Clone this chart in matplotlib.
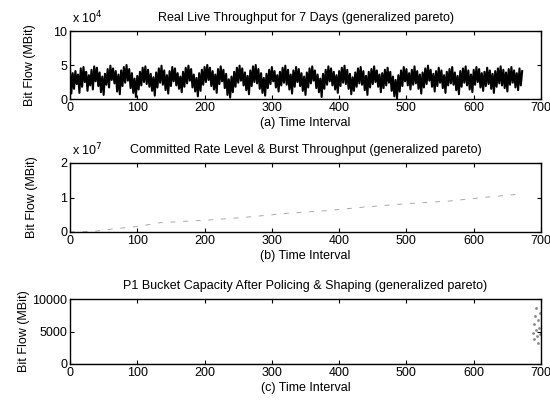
import numpy as np
import matplotlib
matplotlib.use("Agg")
import matplotlib.pyplot as plt
from matplotlib.ticker import FuncFormatter

plt.rcParams['font.family'] = ['Liberation Sans', 'DejaVu Sans']

# (a) live throughput, values in thousands of MBit, one every 2 intervals
throughput_k = [
    44, 8, 38, 15, 41, 22, 36, 9, 45, 18, 47, 25, 40, 12, 35, 20, 43, 14, 48, 26, 46, 19, 39, 10,
    33, 6, 37, 21, 44, 17, 49, 28, 45, 23, 41, 11, 36, 7, 42, 19, 47, 24, 50, 27, 44, 16, 38, 9,
    30, 3, 34, 14, 40, 20, 46, 25, 48, 22, 43, 18, 37, 12, 32, 5, 39, 17, 45, 24, 49, 21, 42, 13,
    35, 8, 41, 19, 47, 26, 45, 20, 38, 15, 33, 10, 40, 18, 46, 23, 49, 27, 44, 17, 36, 11, 31, 4,
    38, 12, 43, 21, 47, 25, 50, 28, 46, 19, 41, 14, 36, 9, 44, 22, 48, 26, 43, 16, 37, 6, 29, 2,
    33, 10, 40, 18, 46, 24, 49, 27, 45, 20, 39, 13, 34, 7, 42, 19, 48, 25, 50, 23, 44, 15, 38, 9,
    31, 5, 37, 16, 43, 22, 47, 26, 41, 17, 35, 11, 40, 20, 46, 24, 49, 21, 43, 14, 36, 8, 42, 18,
    47, 25, 44, 19, 38, 12, 33, 6, 39, 17, 45, 23, 48, 27, 42, 16, 36, 10, 30, 3, 37, 15, 43, 21,
    48, 26, 45, 20, 40, 14, 35, 9, 41, 19, 46, 24, 49, 22, 43, 15, 37, 7, 32, 12, 39, 18, 45, 23,
    47, 21, 41, 13, 34, 6, 40, 17, 44, 22, 48, 25, 42, 18, 36, 10, 38, 16, 43, 20, 46, 24, 40, 12,
    33, 4, 28, 1, 35, 11, 42, 19, 47, 26, 44, 20, 38, 14, 43, 21, 48, 23, 41, 15, 36, 8, 39, 17,
    45, 22, 49, 27, 43, 18, 37, 11, 41, 19, 46, 24, 42, 16, 35, 9, 40, 20, 44, 23, 47, 21, 39, 13,
    34, 7, 41, 18, 45, 24, 48, 20, 42, 14, 36, 10, 43, 21, 47, 25, 44, 17, 38, 12, 40, 19, 46, 22,
    42, 15, 37, 9, 41, 18, 45, 23, 48, 20, 43, 16, 39, 11, 44, 21, 47, 24, 42, 17, 38, 13, 45, 20,
    41,
]
throughput_step = 2

# (b) committed rate level & burst throughput (x 1e7 MBit)
committed_x = [0, 20, 40, 60, 100, 134, 208, 257, 322, 382, 436, 500, 565, 614, 658, 672]
committed_y = [0, 0.01, 0.03, 0.08, 0.16, 0.27, 0.35, 0.42, 0.54, 0.62, 0.72, 0.82, 0.90, 1.0, 1.08, 1.1]

# (c) P1 bucket capacity
bucket_x = [688, 689, 690, 691, 692, 693, 694, 695, 696, 697, 698, 699]
bucket_y = [4800, 6200, 3900, 7400, 5200, 8600, 4300, 6800, 3200, 5600, 7900, 4600]

titles = ["Real Live Throughput for 7 Days (generalized pareto)",
          "Committed Rate Level & Burst Throughput (generalized pareto)",
          "P1 Bucket Capacity After Policing & Shaping (generalized pareto)"]
xlabels = ["(a) Time Interval", "(b) Time Interval", "(c) Time Interval"]
xticks = [0, 100, 200, 300, 400, 500, 600, 700]

W, H = 550, 408
fig = plt.figure(figsize=(W / 100, H / 100), dpi=100)

def frac(top, bottom):
    return [70 / W, 1 - bottom / H, 471 / W, (bottom - top) / H]

axa = fig.add_axes(frac(31, 99))
axb = fig.add_axes(frac(163, 232))
axc = fig.add_axes(frac(299, 364))

ya = np.array(throughput_k) * 1e3
xa = np.arange(len(ya)) * throughput_step
axa.plot(xa, ya, color='black', lw=1.5)
axa.set_ylim(0, 1e5)
axa.set_yticks([0, 5e4, 1e5])
axa.yaxis.set_major_formatter(FuncFormatter(lambda v, p: f"{v/1e4:g}"))

axb.plot(committed_x, np.array(committed_y) * 1e7, color='#a8a8a8', lw=0.7,
         linestyle=(0, (5, 8)))
axb.set_ylim(0, 2e7)
axb.set_yticks([0, 1e7, 2e7])
axb.yaxis.set_major_formatter(FuncFormatter(lambda v, p: f"{v/1e7:g}"))

axc.plot([0, 686], [0, 0], color='black', lw=0.8)
axc.plot(bucket_x, bucket_y, '.', color='#8a8a8a', ms=2)
axc.set_ylim(0, 10000)
axc.set_yticks([0, 5000, 10000])

label_x = [(36 - 70) / 471, (38 - 70) / 471, (30 - 70) / 471]
for ax, t, xl, lx in zip([axa, axb, axc], titles, xlabels, label_x):
    ax.set_xlim(0, 700)
    ax.set_xticks(xticks)
    ax.tick_params(direction='in', top=True, right=True, labelsize=9, length=3, width=0.8, pad=2)
    ax.set_title(t, fontsize=9, pad=7)
    ax.set_xlabel(xl, fontsize=9, labelpad=2)
    ax.set_ylabel("Bit Flow (MBit)", fontsize=9)
    ax.yaxis.set_label_coords(lx, 0.5)
    for s in ax.spines.values():
        s.set_linewidth(1.0)

fig.text(72 / W, 1 - 18 / H, r"x 10$^4$", fontsize=9, va='center', ha='left')
fig.text(72 / W, 1 - 150 / H, r"x 10$^7$", fontsize=9, va='center', ha='left')

fig.savefig("out.png", dpi=100)
